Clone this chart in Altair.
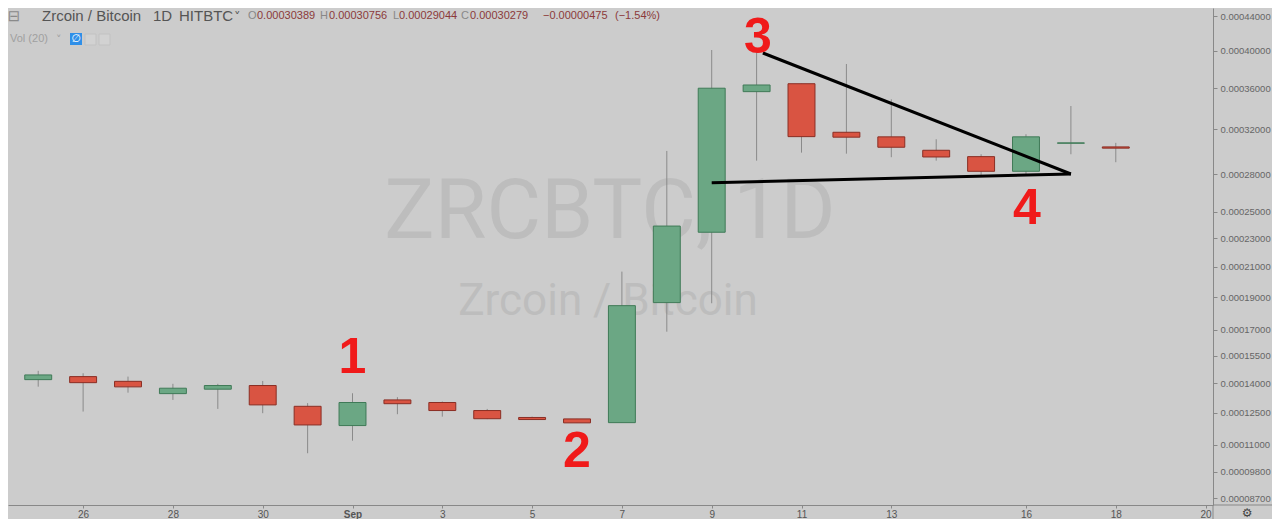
import altair as alt
import pandas as pd

# ---------------- data ----------------
dates = ["2018-08-24", "2018-08-25", "2018-08-26", "2018-08-27", "2018-08-28",
         "2018-08-29", "2018-08-30", "2018-08-31", "2018-09-01", "2018-09-02",
         "2018-09-03", "2018-09-04", "2018-09-05", "2018-09-06", "2018-09-07",
         "2018-09-08", "2018-09-09", "2018-09-10", "2018-09-11", "2018-09-12",
         "2018-09-13", "2018-09-14", "2018-09-15", "2018-09-16", "2018-09-17",
         "2018-09-18"]
opens = [0.0001240, 0.0001420, 0.0001436, 0.0001411, 0.0001347, 0.0001370,
         0.0001389, 0.0001283, 0.0001189, 0.0001315, 0.0001302, 0.0001262,
         0.0001228, 0.0001221, 0.0001203, 0.0001865, 0.0002345, 0.0003565,
         0.0003646, 0.0003172, 0.0003130, 0.0003009, 0.0002953, 0.0002827,
         0.0003072, 0.00030389]
highs = [0.0001450, 0.0001467, 0.0001454, 0.0001436, 0.0001398, 0.0001398,
         0.0001413, 0.0001299, 0.0001349, 0.0001329, 0.0001307, 0.0001270,
         0.0001232, 0.0001221, 0.0002067, 0.0003003, 0.0004007, 0.0004030,
         0.0003646, 0.0003854, 0.0003488, 0.0003108, 0.0002974, 0.0003154,
         0.0003422, 0.00030756]
lows = [0.0001230, 0.0001383, 0.0001257, 0.0001352, 0.0001315, 0.0001270,
        0.0001249, 0.0001061, 0.0001118, 0.0001244, 0.0001232, 0.0001220,
        0.0001218, 0.0001202, 0.0001203, 0.0001688, 0.0001861, 0.0002918,
        0.0002988, 0.0002979, 0.0002948, 0.0002918, 0.0002796, 0.0002804,
        0.0002974, 0.00029044]
closes = [0.0001429, 0.0001445, 0.0001404, 0.0001382, 0.0001375, 0.0001389,
          0.0001290, 0.0001192, 0.0001302, 0.0001296, 0.0001262, 0.0001222,
          0.0001218, 0.0001202, 0.0001846, 0.0002391, 0.0003600, 0.0003633,
          0.0003132, 0.0003127, 0.0003036, 0.0002950, 0.0002827, 0.0003130,
          0.0003075, 0.00030279]

# trend lines (day offset from Sep 1, price)
line_ids = ["upper", "upper", "lower", "lower"]
line_days = [9.14, 16.0, 8.0, 16.0]
line_prices = [0.0003974, 0.0002804, 0.0002732, 0.0002804]

# red annotation numbers (day offset, price)
note_texts = ["1", "2", "3", "4"]
note_days = [0.0, 5.0, 9.03, 15.02]
note_prices = [0.0001538, 0.0001067, 0.0004143, 0.0002521]

# axis ticks
y_ticks = [0.00044, 0.00040, 0.00036, 0.00032, 0.00028, 0.00025, 0.00023,
           0.00021, 0.00019, 0.00017, 0.000155, 0.00014, 0.000125, 0.00011,
           0.000098, 0.000087]
x_ticks = [-6, -4, -2, 0, 2, 4, 6, 8, 10, 12, 15, 17, 19]

# ---------------- tables ----------------
base_day = pd.Timestamp("2018-09-01")
df = pd.DataFrame({"date": dates, "open": opens, "high": highs,
                   "low": lows, "close": closes})
df["d"] = (pd.to_datetime(df["date"]) - base_day).dt.days
df["x0"] = df["d"] - 0.3
df["x1"] = df["d"] + 0.3
df["dir"] = ["up" if c >= o else "down" for o, c in zip(opens, closes)]

lines = pd.DataFrame({"id": line_ids, "d": line_days, "p": line_prices})
notes = pd.DataFrame({"t": note_texts, "d": note_days, "p": note_prices})

W, H = 1205, 497
BG = "#cccccc"

xscale = alt.Scale(domain=[-7.673, 19.165], nice=False, zero=False)
yscale = alt.Scale(type="symlog", constant=0.0000929,
                   domain=[0.0000842, 0.0004497], nice=False, zero=False)

xaxis = alt.Axis(values=x_ticks, title=None, grid=False,
                 labelExpr="datum.value == 0 ? 'Sep' : '' + date(datetime(2018, 8, 1 + datum.value))",
                 labelFontWeight={"condition": {"test": "datum.value == 0", "value": "bold"}, "value": "normal"},
                 labelColor="#555", labelFontSize=10, labelFont="Liberation Sans",
                 tickSize=3, labelPadding=1, domainColor="#888", tickColor="#888")
yaxis = alt.Axis(values=y_ticks, orient="right", format=".8f", title=None, grid=False,
                 labelColor="#666", labelFontSize=9.5, labelFont="Liberation Sans",
                 tickSize=4, labelPadding=3, domainColor="#888", tickColor="#888",
                 labelOverlap=False)


def X(field):
    return alt.X(field, type="quantitative", scale=xscale, axis=xaxis)


def Y(field):
    return alt.Y(field, type="quantitative", scale=yscale, axis=yaxis)


one = pd.DataFrame({"a": [0]})


def label(text, x, y, size, color, font="Liberation Sans", weight="normal", align="left"):
    return alt.Chart(one).mark_text(text=text, font=font, fontSize=size, color=color,
                                    fontWeight=weight, align=align, baseline="middle").encode(
        x=alt.value(x), y=alt.value(y))


# watermark
wm1 = label("ZRCBTC, 1D", 602, 205, 84, "#bdbdbd", font="Roboto", align="center")
wm2 = label("Zrcoin / Bitcoin", 600, 294, 44, "#bdbdbd", font="Roboto", align="center")

# candles
wicks = alt.Chart(df).mark_rule(color="#8a8a8a", strokeWidth=1, clip=True).encode(
    x=X("d"), y=Y("low"), y2="high")
bodies = alt.Chart(df).mark_rect(strokeWidth=1, clip=True).encode(
    x=X("x0"), x2="x1", y=Y("open"), y2="close",
    fill=alt.Fill("dir:N", scale=alt.Scale(domain=["up", "down"], range=["#6ba784", "#d95442"]), legend=None),
    stroke=alt.Stroke("dir:N", scale=alt.Scale(domain=["up", "down"], range=["#3f7a57", "#8a2e24"]), legend=None))

trend = alt.Chart(lines).mark_line(color="#000000", strokeWidth=3, clip=True).encode(
    x=X("d"), y=Y("p"), detail="id:N")

nums = alt.Chart(notes).mark_text(font="Liberation Sans", fontSize=50, fontWeight="bold",
                                  color="#f01a1a", baseline="middle", align="center").encode(
    x=X("d"), y=Y("p"), text="t:N")

# header
hdr = [
    label("\u229f", 6, 8, 15, "#8a8a8a", font="DejaVu Sans", align="center"),
    label("Zrcoin / Bitcoin", 34, 8, 15, "#555555"),
    label("1D", 145, 8, 15, "#555555"),
    label("HITBTC", 171, 8, 15, "#555555"),
    label("\u02c5", 226, 9, 13, "#555555", font="DejaVu Sans"),
    label("O", 240, 8, 11, "#888888"),
    label("0.00030389", 249, 8, 11, "#8b3a3a"),
    label("H", 312, 8, 11, "#888888"),
    label("0.00030756", 321, 8, 11, "#8b3a3a"),
    label("L", 385, 8, 11, "#888888"),
    label("0.00029044", 391, 8, 11, "#8b3a3a"),
    label("C", 453, 8, 11, "#888888"),
    label("0.00030279", 462, 8, 11, "#8b3a3a"),
    label("\u22120.00000475", 535, 8, 11, "#8b3a3a"),
    label("(\u22121.54%)", 607, 8, 11, "#8b3a3a"),
    label("Vol (20)", 2, 31, 11, "#a0a0a0"),
    label("\u02c5", 48, 32, 11, "#a0a0a0", font="DejaVu Sans"),
]
icon_blue = alt.Chart(one).mark_rect(color="#2f8fe8").encode(
    x=alt.value(62), x2=alt.value(74), y=alt.value(25), y2=alt.value(37))
icon_sym = label("\u2205", 68, 31, 11, "#ffffff", font="DejaVu Sans", align="center")
icon_g1 = alt.Chart(one).mark_rect(fill="#d2d2d2", stroke="#c2c2c2").encode(
    x=alt.value(77), x2=alt.value(88), y=alt.value(26), y2=alt.value(37))
icon_g2 = alt.Chart(one).mark_rect(fill="#d2d2d2", stroke="#c2c2c2").encode(
    x=alt.value(91), x2=alt.value(102), y=alt.value(26), y2=alt.value(37))

# frame pieces outside the plot
vline = alt.Chart(one).mark_rule(color="#888888").encode(
    x=alt.value(W), y=alt.value(H), y2=alt.value(H + 20))
hline = alt.Chart(one).mark_rule(color="#888888").encode(
    x=alt.value(W), x2=alt.value(W + 70), y=alt.value(H))
gear = label("\u2699", W + 34, H + 8, 12, "#444444", font="DejaVu Sans", align="center")

chart = alt.layer(
    wm1, wm2, wicks, bodies, trend, nums, *hdr, icon_blue, icon_sym, icon_g1, icon_g2,
    vline, hline, gear
).properties(
    width=W, height=H, background=BG,
    padding={"left": 0, "top": 0, "right": 59, "bottom": 14},
    autosize=alt.AutoSizeParams(type="none"),
).configure_view(stroke=None)

chart.save("out.html", embed_options={"renderer": "svg", "actions": False})
